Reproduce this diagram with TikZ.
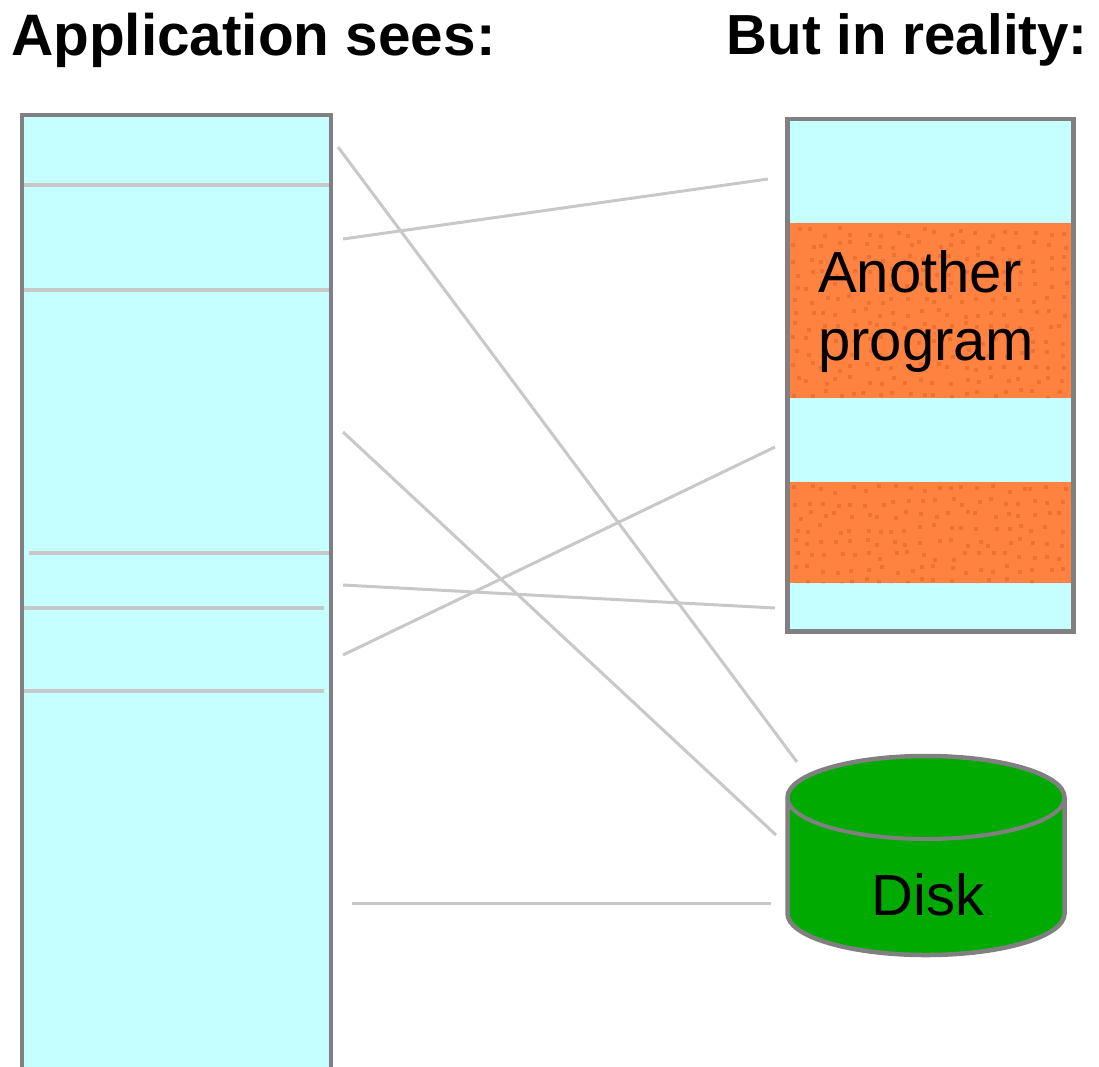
\documentclass[tikz,border=0pt]{standalone}
\usepackage{fontspec}
\setmainfont{Liberation Sans}
\definecolor{memcyan}{RGB}{198,255,255}
\definecolor{progorange}{RGB}{255,130,64}
\definecolor{orangedot}{RGB}{238,112,50}
\definecolor{diskgreen}{RGB}{0,170,0}
\definecolor{bordergray}{RGB}{128,128,128}
\definecolor{sepgray}{RGB}{200,200,200}
\begin{document}
\begin{tikzpicture}[x=1pt,y=1pt,
  boxborder/.style={draw=bordergray, line width=4.5pt},
  sepline/.style={draw=sepgray, line width=3.5pt},
  mapline/.style={draw=sepgray, line width=3pt},
  titletext/.style={font=\bfseries\fontsize{58.5}{68}\selectfont, inner sep=0pt},
  titletextb/.style={font=\bfseries\fontsize{56.5}{68}\selectfont, inner sep=0pt},
  boxtext/.style={font=\fontsize{58}{68}\selectfont, inner sep=0pt, text=black},
  texdot/.style={fill=orangedot}]
\useasboundingbox (0,0) rectangle (1099,-1066);
% left memory column
\fill[memcyan] (22,-115) rectangle (331,-1072);
\draw[sepline] (24,-185) -- (329,-185);
\draw[sepline] (24,-290) -- (329,-290);
\draw[sepline] (29,-553) -- (329,-553);
\draw[sepline] (24,-608) -- (324,-608);
\draw[sepline] (24,-691) -- (324,-691);
\draw[boxborder] (22,-1072) -- (22,-115) -- (331,-115) -- (331,-1072);
% right memory column
\fill[memcyan] (787.5,-119) rectangle (1073.5,-631.5);
\fill[progorange] (787.5,-223) rectangle (1073.5,-398);
\fill[progorange] (787.5,-482) rectangle (1073.5,-583);
\pgfmathsetseed{7}
\begin{scope}
  \clip (787.5,-223) rectangle (1073.5,-398) (787.5,-482) rectangle (1073.5,-583);
  \foreach \i in {0,...,20} {
    \foreach \j in {0,...,27} {
      \pgfmathsetmacro{\dx}{790+\i*14+rnd*9}
      \pgfmathsetmacro{\dy}{-226-\j*13.5-rnd*8}
      \fill[texdot] (\dx,\dy) rectangle ++(4,-4);
    }
  }
\end{scope}
\draw[boxborder] (787.5,-119) rectangle (1073.5,-631.5);
% disk
\draw[boxborder, fill=diskgreen] (787.5,-797.5) -- (787.5,-913.5)
  arc[start angle=180, end angle=360, x radius=138.5, y radius=41.5]
  -- (1064.5,-797.5)
  arc[start angle=0, end angle=180, x radius=138.5, y radius=41.5] -- cycle;
\draw[draw=bordergray, line width=4pt] (787.5,-797.5)
  arc[start angle=180, end angle=360, x radius=138.5, y radius=41.5];
% texts
\node[titletext, anchor=base west] (apptitle) at (11,-55) {Application sees:};
\node[titletextb, anchor=base east] (realtitle) at (1088,-54) {But in reality:};
\node[boxtext, anchor=north west, align=left] (another) at (818,-250.5) {Another\\program};
\node[boxtext, anchor=base] (disklabel) at (928,-915) {Disk};
% mapping lines
\coordinate (a1) at (338,-147); \coordinate (a2) at (797,-762);
\coordinate (b1) at (343,-239); \coordinate (b2) at (768,-179);
\coordinate (c1) at (343,-432); \coordinate (c2) at (776,-835);
\coordinate (d1) at (343,-585); \coordinate (d2) at (775,-608);
\coordinate (e1) at (343,-655); \coordinate (e2) at (775,-447);
\coordinate (f1) at (352,-903); \coordinate (f2) at (771,-903);
\draw[mapline] (a1) -- (a2);
\draw[mapline] (b1) -- (b2);
\draw[mapline] (c1) -- (c2);
\draw[mapline] (d1) -- (d2);
\draw[mapline] (e1) -- (e2);
\draw[mapline] (f1) -- (f2);
\end{tikzpicture}
\end{document}
